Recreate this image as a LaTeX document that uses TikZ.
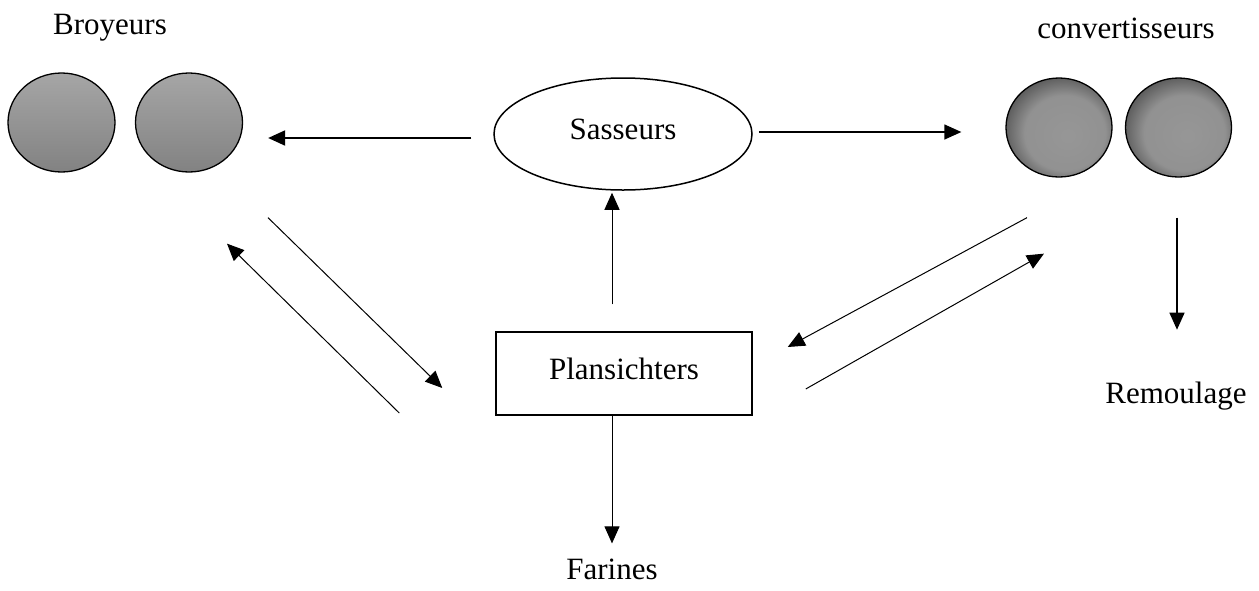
\documentclass[tikz,border=0pt]{standalone}
\usepackage{fontspec}
\setmainfont{Liberation Serif}
\usetikzlibrary{arrows.meta,shapes.geometric,calc}

\colorlet{broytop}{black!35}
\colorlet{broybot}{black!49}
\colorlet{convmid}{black!41}
\colorlet{convin}{black!43}
\colorlet{convrim}{black!64}

% converter rolls: lighter body, darker rim towards the upper left
\pgfdeclareradialshading{convshade}{\pgfpoint{4.5bp}{-4.5bp}}{%
  color(0bp)=(convmid); color(19bp)=(convin); color(28bp)=(convrim); color(50bp)=(convrim)}

\tikzset{
  lbl/.style={font=\fontsize{31}{36}\selectfont, inner sep=0pt},
  broyroll/.style={ellipse, draw, line width=1.3pt, minimum width=107pt, minimum height=99pt,
    inner sep=0pt, top color=broytop, bottom color=broybot},
  convroll/.style={ellipse, draw, line width=1.3pt, minimum width=106pt, minimum height=99pt,
    inner sep=0pt, shading=convshade},
  arr/.style={-{Triangle[length=17pt,width=15pt]}, line width=1pt},
}

\begin{document}
\begin{tikzpicture}[x=1pt, y=-1pt]
\useasboundingbox (0,0) rectangle (1259,590);

% rolls
\node[broyroll] (broy1) at (61.5,122.5) {};
\node[broyroll] (broy2) at (189,122.5) {};
\node[convroll] (conv1) at (1059,127.5) {};
\node[convroll] (conv2) at (1178.5,127.5) {};

% labels
\node[lbl] (broylbl) at (110,28) {Broyeurs};
\node[lbl] (convlbl) at (1126,28) {convertisseurs};
\node[lbl] (remou) at (1176,396) {Remoulage};
\node[lbl] (far) at (612,569) {Farines};

% sifters and purifiers
\node[ellipse, draw, line width=1.5pt, minimum width=258pt, minimum height=112pt, inner sep=0pt,
  font=\fontsize{31}{36}\selectfont] (sass) at (623,134) {\raisebox{10pt}{Sasseurs}};
\node[rectangle, draw, line width=1.5pt, minimum width=256pt, minimum height=83pt, inner sep=0pt,
  font=\fontsize{31}{36}\selectfont] (plan) at (624,373.5) {\raisebox{9pt}{Plansichters}};

% flows
\draw[arr, line width=2pt] ($(sass.west)+(-22,4)$) -- ($(broy2.east)+(25,15.5)$);
\draw[arr, line width=1.3pt] ($(sass.east)+(6,-2)$) -- ($(conv1.west)+(-44,4.5)$);
\draw[arr] ($(plan.north)+(-12,-27)$) -- ($(sass.south)+(-11,2)$);
\draw[arr] ($(plan.south)+(-12,0)$) -- ($(far.north)+(0,-15)$);
\draw[arr, line width=1.3pt] ($(conv2.south)+(-1.5,40)$) -- ($(remou.north)+(1,-52)$);

\draw[arr] ($(broy2.south)+(79,45)$) -- ($(plan.west)+(-53,14.5)$);
\draw[arr] ($(plan.west)+(-96,39.5)$) -- ($(broy2.south)+(38,71)$);
\draw[arr] ($(conv1.south)+(-32,40)$) -- ($(plan.east)+(35,-26.5)$);
\draw[arr] ($(plan.east)+(53,15.5)$) -- ($(conv1.south)+(-15,76)$);
\end{tikzpicture}
\end{document}
